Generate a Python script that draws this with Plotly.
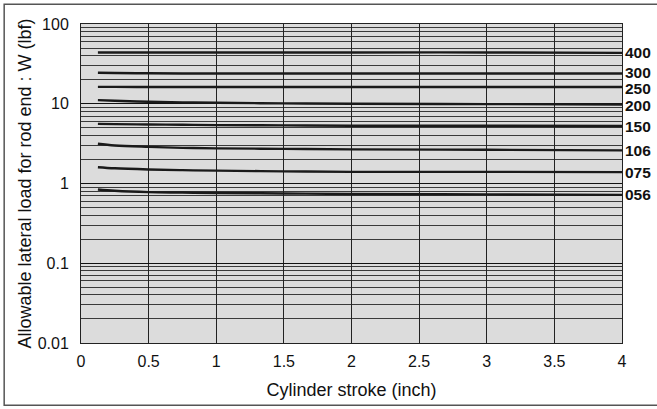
import math
import plotly.graph_objects as go

stroke = [0.125, 0.25, 0.5, 0.75, 1, 1.5, 2, 3, 4]

series = {
    "400": [44, 44, 44, 44, 44, 44, 44, 44, 43.5],
    "300": [24.5, 24.3, 24.1, 24, 24, 24, 24, 24, 24],
    "250": [16.3, 16.3, 16.2, 16.2, 16.2, 16.2, 16.2, 16.2, 16.2],
    "200": [11.1, 10.9, 10.6, 10.4, 10.3, 10.1, 10, 9.9, 9.8],
    "150": [5.6, 5.55, 5.5, 5.45, 5.4, 5.35, 5.3, 5.3, 5.25],
    "106": [3.15, 3.0, 2.88, 2.8, 2.76, 2.72, 2.68, 2.65, 2.6],
    "075": [1.6, 1.55, 1.5, 1.47, 1.45, 1.42, 1.4, 1.4, 1.39],
    "056": [0.84, 0.81, 0.78, 0.77, 0.76, 0.75, 0.74, 0.73, 0.72],
}

y_major = [0.01, 0.1, 1, 10, 100]
y_labels = ["0.01", "0.1", "1", "10", "100"]
y_minor = [m * d for d in [0.01, 0.1, 1, 10] for m in range(2, 10)]

font = "Liberation Sans, Arial, sans-serif"

# small nudges so the tightly packed end labels don't collide
label_shift = {"300": 1, "250": -1, "200": -1}

fig = go.Figure()

for name, vals in series.items():
    fig.add_trace(
        go.Scatter(
            x=stroke,
            y=vals,
            mode="lines",
            name=name,
            line=dict(color="#1a1a1a", width=2.4, shape="spline"),
            showlegend=False,
        )
    )
    # annotations on a log axis take log10 positions
    fig.add_annotation(
        x=stroke[-1],
        y=math.log10(vals[-1]),
        text=f"<b>{name}</b>",
        showarrow=False,
        xanchor="left",
        xshift=1,
        yshift=label_shift.get(name, 0),
        font=dict(size=15.5, color="#111", family=font),
    )

fig.update_layout(
    width=657,
    height=409,
    margin=dict(l=81, r=35, t=24, b=64),
    paper_bgcolor="white",
    plot_bgcolor="#dcdcdc",
    font=dict(family=font, size=15, color="#111"),
    xaxis=dict(
        range=[0, 4],
        dtick=0.5,
        showgrid=True,
        gridcolor="#222",
        gridwidth=1,
        showline=True,
        linecolor="#222",
        mirror=True,
        zeroline=False,
        ticks="",
        ticklabelstandoff=4,
        tickfont=dict(family=font, size=16, color="#111"),
        title=dict(
            text="Cylinder stroke (inch)",
            standoff=14,
            font=dict(family=font, size=18, color="#111"),
        ),
    ),
    yaxis=dict(
        type="log",
        range=[-2, 2],
        tickvals=y_major,
        ticktext=y_labels,
        showgrid=True,
        gridcolor="#111",
        gridwidth=1,
        showline=True,
        linecolor="#222",
        mirror=True,
        ticks="",
        ticklabelstandoff=8,
        tickfont=dict(family=font, size=16, color="#111"),
        minor=dict(tickvals=y_minor, showgrid=True, gridcolor="#3a3a3a", gridwidth=1),
        title=dict(
            text="Allowable lateral load for rod end : W (lbf)",
            standoff=1,
            font=dict(family=font, size=18, color="#111"),
        ),
    ),
    shapes=[
        dict(
            type="rect",
            xref="paper",
            yref="paper",
            x0=-0.142,
            x1=1.1,
            y0=-0.195,
            y1=1.062,
            line=dict(color="#555", width=1.5),
            layer="below",
        )
    ],
)

fig.write_html(
    "out.html",
    config={"displayModeBar": False},
    post_script="document.body.style.margin='0';",
)
